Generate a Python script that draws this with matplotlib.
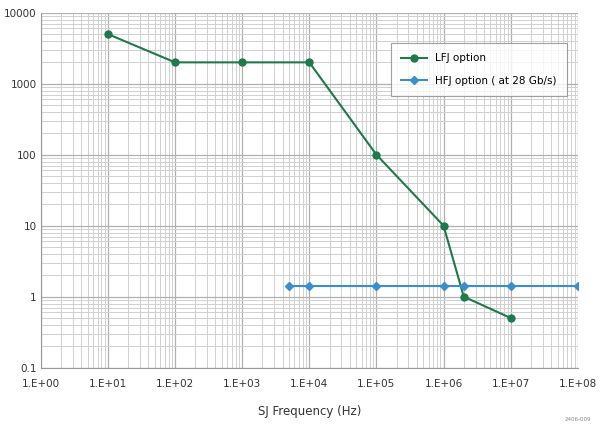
import matplotlib
matplotlib.use("Agg")
import matplotlib.pyplot as plt
from matplotlib.ticker import LogLocator, NullFormatter

lfj_x = [1e1, 1e2, 1e3, 1e4, 1e5, 1e6, 2e6, 1e7]
lfj_y = [5000, 2000, 2000, 2000, 100, 10, 1.0, 0.5]
hfj_x = [5e3, 1e4, 1e5, 1e6, 2e6, 1e7, 1e8]
hfj_y = [1.4, 1.4, 1.4, 1.4, 1.4, 1.4, 1.4]
xticks = [1e0, 1e1, 1e2, 1e3, 1e4, 1e5, 1e6, 1e7, 1e8]
xlabels = ["1.E+00", "1.E+01", "1.E+02", "1.E+03", "1.E+04", "1.E+05", "1.E+06", "1.E+07", "1.E+08"]
yticks = [0.1, 1, 10, 100, 1000, 10000]
ylabels = ["0.1", "1", "10", "100", "1000", "10000"]

fig = plt.figure(figsize=(6, 4.25), dpi=100)
ax = fig.add_axes([0.068, 0.135, 0.895, 0.835])
ax.set_xscale("log"); ax.set_yscale("log")
ax.set_xlim(1e0, 1e8); ax.set_ylim(0.1, 10000)
ax.plot(lfj_x, lfj_y, color="#1e7a4a", marker="o", ms=5, lw=1.5, label="LFJ option", zorder=3)
ax.plot(hfj_x, hfj_y, color="#3a8ed0", marker="D", ms=4.5, lw=1.5, label="HFJ option ( at 28 Gb/s)", zorder=3)
ax.set_xticks(xticks); ax.set_xticklabels(xlabels)
ax.set_yticks(yticks); ax.set_yticklabels(ylabels)
ax.xaxis.set_minor_locator(LogLocator(base=10, subs=range(2, 10), numticks=20))
ax.yaxis.set_minor_locator(LogLocator(base=10, subs=range(2, 10), numticks=20))
ax.xaxis.set_minor_formatter(NullFormatter()); ax.yaxis.set_minor_formatter(NullFormatter())
ax.grid(which="major", color="#b0b0b0", lw=0.9)
ax.grid(which="minor", color="#d0d0d0", lw=0.7)
ax.tick_params(which="both", length=0, labelsize=7.5, colors="#333333")
ax.tick_params(axis="x", pad=8)
ax.tick_params(axis="y", pad=3)
for s in ["top", "right"]:
    ax.spines[s].set_visible(False)
ax.spines["left"].set_color("#999999"); ax.spines["bottom"].set_color("#999999")
ax.set_xlabel("SJ Frequency (Hz)", fontsize=8.5, color="#333333", labelpad=12)
ax.set_ylabel("Max Jitter Amplitude (UIpp)", fontsize=8, color="#333333", labelpad=3)
leg = ax.legend(loc="upper right", bbox_to_anchor=(0.99, 0.93), fontsize=7.5, frameon=True,
                fancybox=False, edgecolor="#888888", borderpad=1.0, labelspacing=1.2, handlelength=2.5)
leg.get_frame().set_linewidth(0.8)
fig.text(0.985, 0.01, "2406-009", fontsize=4, color="#888888", ha="right")
fig.savefig("out.png", dpi=100, facecolor="white")
